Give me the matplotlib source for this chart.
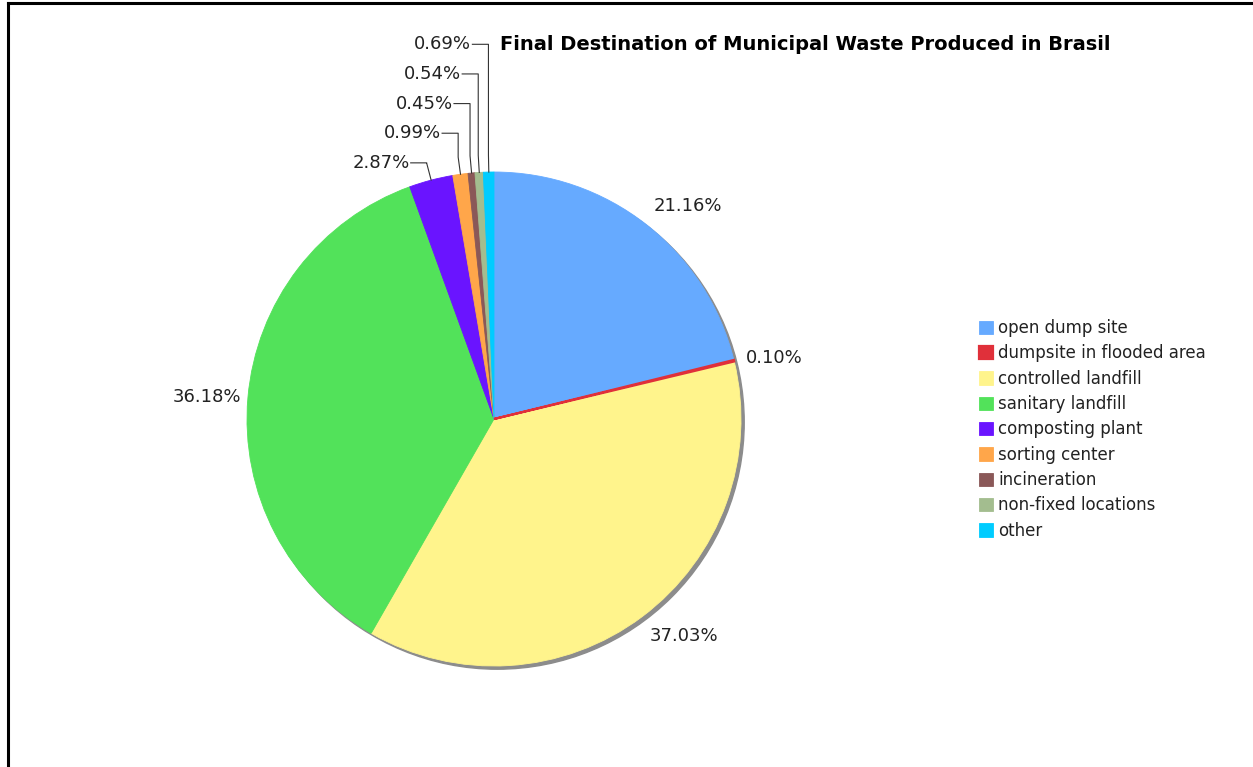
import numpy as np
import matplotlib
matplotlib.use("Agg")
import matplotlib.pyplot as plt
from matplotlib.patches import Circle
from matplotlib.lines import Line2D
from matplotlib.transforms import Bbox, TransformedBbox

# data
categories = ["open dump site", "dumpsite in flooded area", "controlled landfill",
              "sanitary landfill", "composting plant", "sorting center",
              "incineration", "non-fixed locations", "other"]
shares = [21.16, 0.10, 37.03, 36.18, 2.87, 0.99, 0.45, 0.54, 0.69]
colors = ["#66aaff", "#e0303a", "#fff48c", "#52e25a", "#6a14ff",
          "#ffa64a", "#8a5858", "#a3bd8f", "#00ccff"]
callout = [False, False, False, False, True, True, True, True, True]

W, H = 1253, 767
fig = plt.figure(figsize=(W / 100, H / 100), dpi=100)
ax = fig.add_axes([0, 0, 1, 1])

# pie centre at (494, 419) px, radius 247 px
cx, cy, R = 494, 419, 247

wedges, _ = ax.pie(shares, colors=colors, startangle=90, counterclock=False,
                   radius=1, center=(0, 0),
                   wedgeprops=dict(linewidth=0.6))
for w, c in zip(wedges, colors):
    w.set_edgecolor(c)
    w.set_zorder(2)
wedges[1].set_linewidth(1.6)
wedges[1].set_zorder(2.5)

# drop shadow
ax.add_patch(Circle((0.013, -0.013), 1.0, color="#8c8c8c", zorder=1))

ax.set_xlim(-cx / R, (W - cx) / R)
ax.set_ylim(-(H - cy) / R, cy / R)
ax.set_aspect("equal")
ax.axis("off")

lab_font = dict(fontsize=13, color="#222222")

# percentage labels
cum = np.cumsum([0] + shares[:-1])
k = 0
for i, (s, c0) in enumerate(zip(shares, cum)):
    mid = np.radians(90 - (c0 + s / 2) * 3.6)
    txt = "%.2f%%" % s
    if not callout[i]:
        x, y = 1.05 * np.cos(mid), 1.05 * np.sin(mid)
        ha = "left" if np.cos(mid) > 0 else "right"
        if np.sin(mid) > 0.5:
            va = "bottom"
        elif np.sin(mid) < -0.5:
            va = "top"
        else:
            va = "center"
            if np.cos(mid) < 0:
                x = -1.025
        ax.text(x, y, txt, ha=ha, va=va, **lab_font)
    else:
        ly = 1.037 + 0.12 * k
        x0, y0 = np.cos(mid), np.sin(mid)
        x1, y1 = 1.07 * np.cos(mid), min(1.07 * np.sin(mid), ly)
        ax.plot([x0, x1, x1, x1 - 0.065], [y0, y1, ly, ly],
                color="#333333", lw=0.8, zorder=3)
        ax.text(x1 - 0.07, ly, txt, ha="right", va="center", **lab_font)
        k += 1

fig.text(500 / W, 1 - 45 / H, "Final Destination of Municipal Waste Produced in Brasil",
         ha="left", va="center", fontsize=14, fontweight="bold", color="black")

leg = fig.legend(wedges, categories, loc="upper left",
                 bbox_to_anchor=(979 / W, 1 - 319 / H), frameon=False,
                 fontsize=12, handlelength=0.85, handleheight=0.85,
                 handletextpad=0.3, labelspacing=0.44, borderpad=0,
                 borderaxespad=0)
clip = TransformedBbox(Bbox([[0, 0], [1220 / W, 1]]), fig.transFigure)
for t in leg.get_texts():
    t.set_color("#222222")
    t.set_clip_box(clip)
    t.set_clip_on(True)

# frame lines (left and top)
fig.add_artist(Line2D([8 / W, 8 / W], [0, 1 - 3 / H], transform=fig.transFigure,
                      color="black", lw=2.2))
fig.add_artist(Line2D([8 / W, 1], [1 - 3 / H, 1 - 3 / H], transform=fig.transFigure,
                      color="black", lw=2.2))

fig.savefig("out.png", dpi=100)
